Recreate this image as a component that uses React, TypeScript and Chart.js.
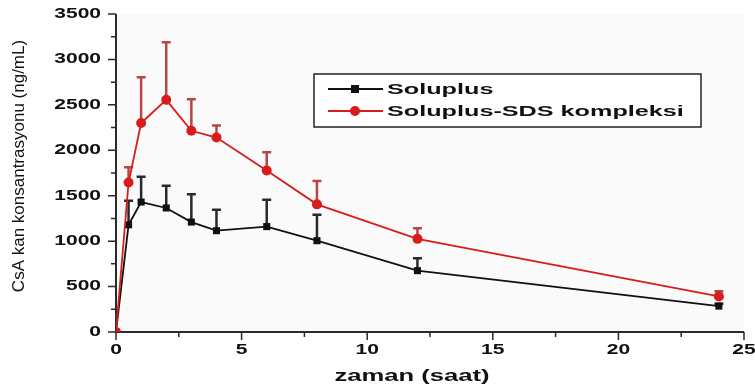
import React, { useEffect, useRef } from "react";
import { Chart, registerables } from "chart.js";

Chart.register(...registerables);

// ---- data ----
const times = [0, 0.5, 1, 2, 3, 4, 6, 8, 12, 24];
const soluplus = [0, 1180, 1430, 1365, 1210, 1115, 1160, 1005, 675, 285];
const soluplusErr = [0, 265, 280, 245, 305, 230, 295, 285, 136, 25];
const sds = [0, 1645, 2300, 2555, 2215, 2140, 1778, 1405, 1025, 392];
const sdsErr = [0, 168, 505, 635, 346, 132, 200, 258, 118, 56];
const seriesLabels = ["Soluplus", "Soluplus-SDS kompleksi"];
const xTicks = [0, 5, 10, 15, 20, 25];
const yTicks = [0, 500, 1000, 1500, 2000, 2500, 3000, 3500];
const xTitle = "zaman (saat)";
const yTitle = "CsA kan konsantrasyonu (ng/mL)";

const BLACK = "#111111";
const RED = "#d81c1c";
const RED_ERR = "#b94646";
const AXIS = "#2a2a2a";
const FONT = "'Liberation Sans', Arial, sans-serif";

function drawStretched(
  ctx: CanvasRenderingContext2D,
  text: string,
  x: number,
  y: number,
  font: string,
  sx: number,
  align: "left" | "center" | "right",
  baseline: CanvasTextBaseline
) {
  ctx.save();
  ctx.font = font;
  ctx.textBaseline = baseline;
  ctx.textAlign = "left";
  const w = ctx.measureText(text).width * sx;
  const left = align === "left" ? x : align === "center" ? x - w / 2 : x - w;
  ctx.translate(left, y);
  ctx.scale(sx, 1);
  ctx.fillText(text, 0, 0);
  ctx.restore();
}

const errs = [soluplusErr, sdsErr];
const vals = [soluplus, sds];
const errColors = [AXIS, RED_ERR];

const decorPlugin = {
  id: "decor",
  beforeDraw(chart: any) {
    const { ctx, chartArea: a } = chart;
    ctx.save();
    ctx.fillStyle = "#ffffff";
    ctx.fillRect(0, 0, chart.width, chart.height);
    ctx.fillStyle = "#fafafa";
    ctx.fillRect(a.left, a.top, a.right - a.left, a.bottom - a.top);
    ctx.restore();
  },
  beforeDatasetsDraw(chart: any) {
    const { ctx, chartArea: a } = chart;
    const xs = chart.scales.x;
    const ys = chart.scales.y;
    ctx.save();
    // error bars
    for (let d = 0; d < 2; d++) {
      const meta = chart.getDatasetMeta(d);
      ctx.strokeStyle = errColors[d];
      ctx.lineWidth = 2.5;
      meta.data.forEach((p: any, j: number) => {
        const e = errs[d][j];
        if (!e) return;
        const top = ys.getPixelForValue(vals[d][j] + e);
        ctx.beginPath();
        ctx.moveTo(p.x, p.y);
        ctx.lineTo(p.x, top);
        ctx.moveTo(p.x - 4.5, top);
        ctx.lineTo(p.x + 4.5, top);
        ctx.stroke();
      });
    }
    // axes
    ctx.strokeStyle = AXIS;
    ctx.lineWidth = 2;
    ctx.beginPath();
    ctx.moveTo(a.left, a.top);
    ctx.lineTo(a.left, a.bottom);
    ctx.lineTo(a.right, a.bottom);
    ctx.stroke();
    ctx.lineWidth = 1.5;
    ctx.beginPath();
    for (let v = 0; v <= 3500; v += 250) {
      const y = ys.getPixelForValue(v);
      const len = v % 500 === 0 ? 8 : 5;
      ctx.moveTo(a.left, y);
      ctx.lineTo(a.left - len, y);
    }
    for (let v = 0; v <= 25; v += 2.5) {
      const x = xs.getPixelForValue(v);
      const len = v % 5 === 0 ? 8 : 5;
      ctx.moveTo(x, a.bottom);
      ctx.lineTo(x, a.bottom + len);
    }
    ctx.stroke();
    // tick labels
    ctx.fillStyle = "#111";
    const tickFont = `bold 14px ${FONT}`;
    yTicks.forEach((v) => {
      drawStretched(ctx, String(v), a.left - 15, ys.getPixelForValue(v), tickFont, 1.5, "right", "middle");
    });
    xTicks.forEach((v) => {
      drawStretched(ctx, String(v), xs.getPixelForValue(v), a.bottom + 18, tickFont, 1.5, "center", "middle");
    });
    // titles
    drawStretched(ctx, xTitle, 412, 381, `bold 16px ${FONT}`, 1.6, "center", "alphabetic");
    ctx.save();
    ctx.translate(24, 166);
    ctx.rotate(-Math.PI / 2);
    ctx.font = `17px ${FONT}`;
    ctx.textAlign = "center";
    ctx.textBaseline = "alphabetic";
    ctx.fillText(yTitle, 0, 0);
    ctx.restore();
    ctx.restore();
  },
  afterDraw(chart: any) {
    const { ctx } = chart;
    ctx.save();
    // legend
    const bx = 314, by = 74, bw = 387, bh = 53;
    ctx.fillStyle = "#ffffff";
    ctx.fillRect(bx, by, bw, bh);
    ctx.strokeStyle = "#222";
    ctx.lineWidth = 1.5;
    ctx.strokeRect(bx, by, bw, bh);
    const rows = [89, 111];
    const colors = [BLACK, RED];
    rows.forEach((ry, i) => {
      ctx.strokeStyle = colors[i];
      ctx.lineWidth = 1.8;
      ctx.beginPath();
      ctx.moveTo(328, ry);
      ctx.lineTo(383, ry);
      ctx.stroke();
      ctx.fillStyle = colors[i];
      if (i === 0) {
        ctx.fillRect(351, ry - 4, 8, 8);
      } else {
        ctx.beginPath();
        ctx.arc(355, ry, 5, 0, Math.PI * 2);
        ctx.fill();
      }
      ctx.fillStyle = "#111";
      drawStretched(ctx, seriesLabels[i], 387, ry + 1, `bold 15px ${FONT}`, 1.68, "left", "middle");
    });
    ctx.restore();
  },
};

export default function App() {
  const ref = useRef<HTMLCanvasElement>(null);
  useEffect(() => {
    document.body.style.margin = "0";
    const canvas = ref.current;
    if (!canvas) return;
    const chart = new Chart(canvas, {
      type: "line",
      data: {
        datasets: [
          {
            label: seriesLabels[0],
            data: times.map((t, i) => ({ x: t, y: soluplus[i] })),
            borderColor: BLACK,
            backgroundColor: BLACK,
            borderWidth: 1.8,
            pointStyle: "rect",
            pointRadius: 5,
            pointBorderWidth: 0,
            order: 2,
          },
          {
            label: seriesLabels[1],
            data: times.map((t, i) => ({ x: t, y: sds[i] })),
            borderColor: RED,
            backgroundColor: RED,
            borderWidth: 1.8,
            pointStyle: "circle",
            pointRadius: 5,
            pointBorderWidth: 0,
            order: 1,
          },
        ],
      },
      options: {
        responsive: false,
        animation: false,
        devicePixelRatio: 1,
        layout: { padding: { left: 116, right: 11, top: 14, bottom: 57 } },
        scales: {
          x: { type: "linear", min: 0, max: 25, display: false },
          y: { type: "linear", min: 0, max: 3500, display: false },
        },
        plugins: { legend: { display: false }, tooltip: { enabled: false } },
      },
      plugins: [decorPlugin],
    });
    return () => chart.destroy();
  }, []);
  return (
    <div style={{ width: 755, height: 389 }}>
      <canvas ref={ref} width={755} height={389} style={{ display: "block" }} />
    </div>
  );
}
